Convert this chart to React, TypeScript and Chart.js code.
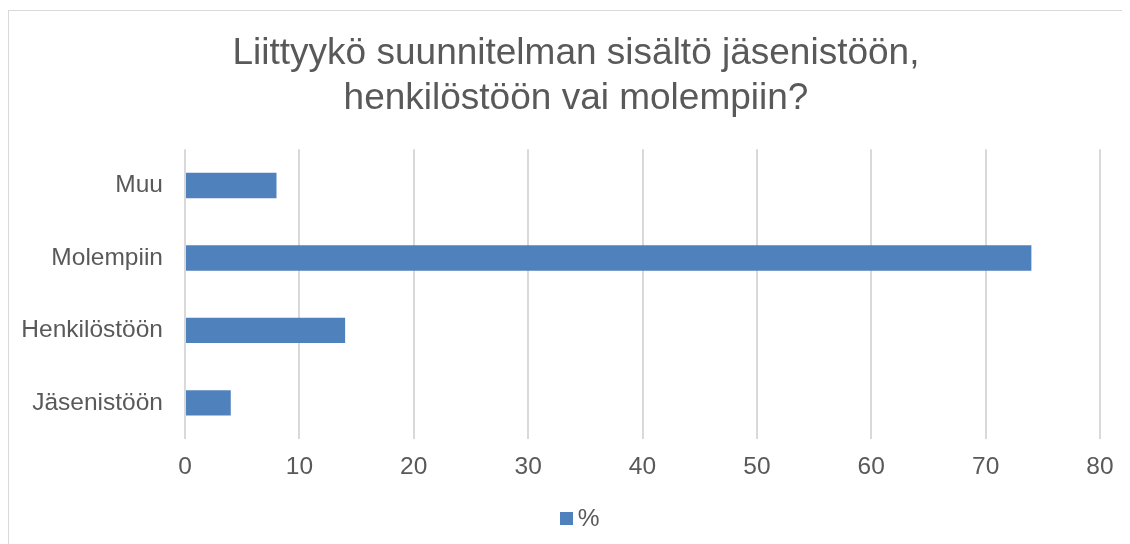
import React, { useEffect, useRef } from "react";
import { Chart, registerables } from "chart.js";

Chart.register(...registerables);

const categories = ["Muu", "Molempiin", "Henkilöstöön", "Jäsenistöön"];
const values = [8, 74, 14, 4];
const seriesLabel = "%";
const titleLines = ["Liittyykö suunnitelman sisältö jäsenistöön,", "henkilöstöön vai molempiin?"];

const FONT = "'Liberation Sans', Arial, sans-serif";
const TEXT = "#595959";
const BAR = "#4F81BD";

const CANVAS_W = 1134;
const CANVAS_H = 545;
const PLOT_RIGHT = 1091;
const LEGEND_FONT = 24.5;
const LEGEND_BOX = 13;

// Draws the legend marker closer to its text (Excel-style spacing).
const legendMarker = {
  id: "legendMarker",
  afterDraw(chart: any) {
    const legend = chart.legend;
    if (!legend || !legend.legendHitBoxes) return;
    const ctx = chart.ctx;
    legend.legendHitBoxes.forEach((hb: any, i: number) => {
      const item = legend.legendItems[i];
      const textX = hb.left + LEGEND_BOX + LEGEND_FONT / 2;
      const cy = hb.top + hb.height / 2;
      ctx.save();
      ctx.fillStyle = item.markerColor;
      ctx.fillRect(Math.round(textX - 5 - LEGEND_BOX), Math.round(cy - LEGEND_BOX / 2), LEGEND_BOX, LEGEND_BOX);
      ctx.restore();
    });
  },
};

export default function App() {
  const ref = useRef<HTMLCanvasElement | null>(null);
  useEffect(() => {
    if (!ref.current) return;
    const chart = new Chart(ref.current, {
      type: "bar",
      data: {
        labels: categories,
        datasets: [
          {
            label: seriesLabel,
            data: values,
            backgroundColor: BAR,
            borderWidth: 0,
            barPercentage: 0.7,
            categoryPercentage: 0.5,
          },
        ],
      },
      plugins: [legendMarker],
      options: {
        indexAxis: "y",
        animation: false,
        responsive: false,
        layout: { padding: { left: 0, right: 0, top: 0, bottom: 15 } },
        plugins: {
          title: {
            display: true,
            text: titleLines,
            color: TEXT,
            font: { family: FONT, size: 37, weight: "normal", lineHeight: 1.22 },
            padding: { top: 20, bottom: 28 },
          },
          legend: {
            display: true,
            position: "bottom",
            labels: {
              color: TEXT,
              font: { family: FONT, size: LEGEND_FONT },
              boxWidth: LEGEND_BOX,
              boxHeight: LEGEND_BOX,
              padding: 12,
              generateLabels: (c: any) =>
                c.data.datasets.map((ds: any, i: number) => ({
                  text: ds.label,
                  fillStyle: "rgba(0,0,0,0)",
                  strokeStyle: "rgba(0,0,0,0)",
                  lineWidth: 0,
                  fontColor: TEXT,
                  hidden: false,
                  datasetIndex: i,
                  markerColor: ds.backgroundColor,
                })),
            },
          },
          tooltip: { enabled: false },
        },
        scales: {
          x: {
            min: 0,
            max: 80,
            ticks: { stepSize: 10, color: TEXT, font: { family: FONT, size: 24.5 }, padding: 13 },
            grid: { color: "#d9d9d9", lineWidth: 2, drawTicks: false },
            border: { display: false },
            afterFit: (scale: any) => {
              scale.paddingRight = CANVAS_W - PLOT_RIGHT;
            },
          },
          y: {
            ticks: { color: TEXT, font: { family: FONT, size: 24.5 }, padding: 22 },
            grid: { display: false, drawTicks: false },
            border: { display: false },
            afterFit: (scale: any) => {
              scale.width = 176;
            },
          },
        },
      },
    });
    return () => chart.destroy();
  }, []);
  return (
    <div style={{ width: 1122, height: 536, overflow: "hidden" }}>
      <div
        style={{
          width: CANVAS_W,
          height: 560,
          marginTop: 2,
          borderTop: "1px solid #d9d9d9",
          borderLeft: "1px solid #d9d9d9",
          background: "#fff",
        }}
      >
        <canvas ref={ref} width={CANVAS_W} height={CANVAS_H} style={{ display: "block" }} />
      </div>
    </div>
  );
}
